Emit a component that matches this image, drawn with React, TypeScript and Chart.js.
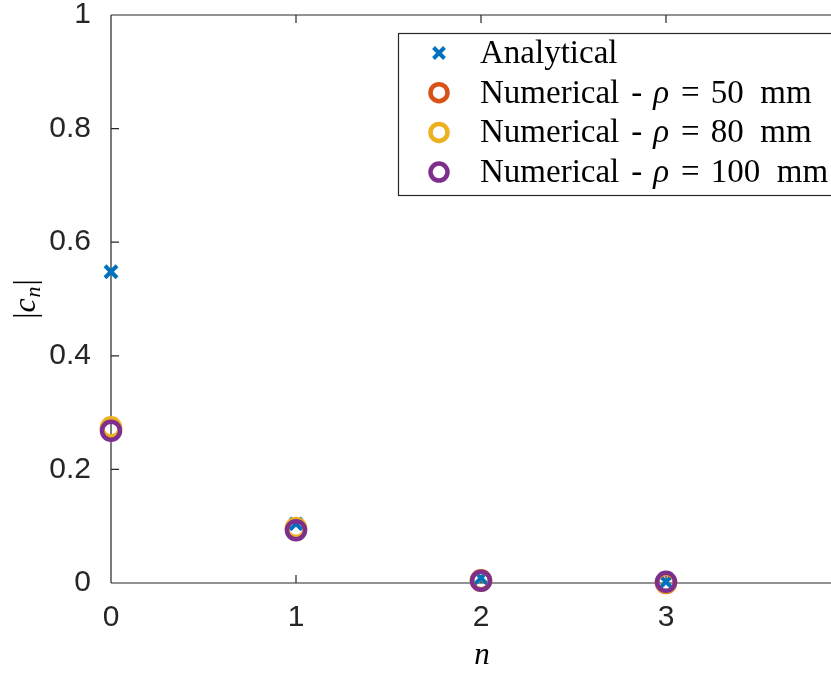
import React, { useEffect, useRef } from "react";
import { Chart, registerables } from "chart.js";

Chart.register(...registerables);

const nValues = [0, 1, 2, 3];
const analytical = [0.548, 0.104, 0.009, 0.002];
const numerical50 = [0.271, 0.095, 0.005, 0.0];
const numerical80 = [0.274, 0.097, 0.004, 0.001];
const numerical100 = [0.268, 0.093, 0.004, 0.002];

const xTicks = [0, 1, 2, 3, 4];
const yTicks = [0, 0.2, 0.4, 0.6, 0.8, 1];
const yTickLabels = ["0", "0.2", "0.4", "0.6", "0.8", "1"];
const xTickLabels = ["0", "1", "2", "3", "4"];

const seriesNames = ["Analytical", "Numerical - ρ = 50 mm", "Numerical - ρ = 80 mm", "Numerical - ρ = 100 mm"];
const legendRho = ["50", "80", "100"];
const colors = ["#0072BD", "#D95319", "#EDB120", "#7E2F8E"];

const AXIS = "#262626";
const SANS = "'Liberation Sans', Arial, Helvetica, sans-serif";
const SERIF = "'Liberation Serif', 'Times New Roman', serif";

const axesPlugin = {
  id: "matlabAxes",
  beforeDatasetsDraw(chart: any) {
    const { ctx, chartArea, scales } = chart;
    const { left, right, top, bottom } = chartArea;
    ctx.save();
    ctx.strokeStyle = AXIS;
    ctx.lineWidth = 1.2;
    ctx.beginPath();
    ctx.moveTo(left, top);
    ctx.lineTo(right, top);
    ctx.moveTo(left, top);
    ctx.lineTo(left, bottom);
    ctx.moveTo(left, bottom);
    ctx.lineTo(right, bottom);
    ctx.moveTo(right, top);
    ctx.lineTo(right, bottom);
    const tl = 8;
    for (const v of xTicks) {
      const x = scales.x.getPixelForValue(v);
      ctx.moveTo(x, bottom);
      ctx.lineTo(x, bottom - tl);
      ctx.moveTo(x, top);
      ctx.lineTo(x, top + tl);
    }
    for (const v of yTicks) {
      const y = scales.y.getPixelForValue(v);
      ctx.moveTo(left, y);
      ctx.lineTo(left + tl, y);
      ctx.moveTo(right, y);
      ctx.lineTo(right - tl, y);
    }
    ctx.stroke();
    ctx.restore();
  },
  afterDraw(chart: any) {
    const { ctx, chartArea } = chart;
    ctx.save();
    ctx.fillStyle = "#000";
    // x title
    ctx.font = `italic 31px ${SERIF}`;
    ctx.textAlign = "center";
    ctx.textBaseline = "alphabetic";
    ctx.fillText("n", 482, 664);
    // y title |c_n|
    ctx.save();
    ctx.translate(27, 299);
    ctx.rotate(-Math.PI / 2);
    ctx.textAlign = "left";
    const fBar = `31px ${SERIF}`;
    const fC = `italic 32px ${SERIF}`;
    const fN = `italic 22px ${SERIF}`;
    ctx.font = fBar;
    const wBar = ctx.measureText("|").width;
    ctx.font = fC;
    const wC = ctx.measureText("c").width;
    ctx.font = fN;
    const wN = ctx.measureText("n").width;
    const total = wBar * 2 + wC + wN + 2;
    let px = -total / 2;
    const base = 8;
    ctx.font = fBar;
    ctx.fillText("|", px, base);
    px += wBar;
    ctx.font = fC;
    ctx.fillText("c", px, base);
    px += wC + 1;
    ctx.font = fN;
    ctx.fillText("n", px, base + 5);
    px += wN + 1;
    ctx.font = fBar;
    ctx.fillText("|", px, base);
    ctx.restore();

    // legend
    const lx = 398;
    const ly = 33;
    const lr = chartArea.right - 10;
    const lb = 195;
    ctx.fillStyle = "#fff";
    ctx.fillRect(lx, ly, lr - lx, lb - ly);
    ctx.strokeStyle = AXIS;
    ctx.lineWidth = 1.2;
    ctx.strokeRect(lx + 0.5, ly + 0.5, lr - lx, lb - ly);
    const markerX = 439;
    const textX = 480;
    for (let i = 0; i < seriesNames.length; i++) {
      const cy = 53 + i * 39.7;
      ctx.strokeStyle = colors[i];
      if (i === 0) {
        ctx.lineWidth = 4;
        const d = 5.5;
        ctx.beginPath();
        ctx.moveTo(markerX - d, cy - d);
        ctx.lineTo(markerX + d, cy + d);
        ctx.moveTo(markerX + d, cy - d);
        ctx.lineTo(markerX - d, cy + d);
        ctx.stroke();
      } else {
        ctx.lineWidth = 4.5;
        ctx.beginPath();
        ctx.arc(markerX, cy, 8.5, 0, Math.PI * 2);
        ctx.stroke();
      }
      ctx.fillStyle = "#000";
      ctx.textAlign = "left";
      ctx.textBaseline = "alphabetic";
      const baseY = cy + 10;
      const roman = `33px ${SERIF}`;
      const ital = `italic 33px ${SERIF}`;
      if (i === 0) {
        ctx.font = roman;
        ctx.fillText(seriesNames[0], textX, baseY);
      } else {
        let tx = textX;
        ctx.font = roman;
        const p1 = "Numerical";
        ctx.fillText(p1, tx, baseY);
        tx += ctx.measureText(p1).width + 12;
        ctx.fillText("-", tx, baseY);
        tx += ctx.measureText("-").width + 11;
        ctx.font = ital;
        ctx.fillText("ρ", tx, baseY);
        tx += ctx.measureText("ρ").width + 12;
        ctx.font = roman;
        ctx.fillText("=", tx, baseY);
        tx += ctx.measureText("=").width + 11;
        const p3 = legendRho[i - 1] + "  mm";
        ctx.fillText(p3, tx, baseY);
      }
    }
    ctx.restore();
  },
};

export default function App() {
  const ref = useRef<HTMLCanvasElement | null>(null);
  useEffect(() => {
    const canvas = ref.current!;
    const mk = (i: number, data: number[]) => ({
      label: seriesNames[i],
      data: nValues.map((n, k) => ({ x: n, y: data[k] })),
      pointStyle: i === 0 ? "crossRot" : "circle",
      pointRadius: i === 0 ? 8.5 : 9,
      pointBorderWidth: i === 0 ? 4 : 4.5,
      borderColor: colors[i],
      backgroundColor: "rgba(0,0,0,0)",
      pointBackgroundColor: "rgba(0,0,0,0)",
      pointBorderColor: colors[i],
      showLine: false,
      order: 4 - i,
      clip: false as any,
    });
    const chart = new Chart(canvas, {
      type: "scatter",
      data: {
        datasets: [
          mk(0, analytical),
          mk(1, numerical50),
          mk(2, numerical80),
          mk(3, numerical100),
        ],
      },
      options: {
        responsive: false,
        animation: false,
        devicePixelRatio: 1,
        layout: { padding: { top: 15, right: 49, left: 0, bottom: 0 } },
        plugins: { legend: { display: false }, tooltip: { enabled: false } },
        scales: {
          x: {
            type: "linear",
            min: 0,
            max: 4,
            afterBuildTicks: (s: any) => {
              s.ticks = xTicks.map((v) => ({ value: v }));
            },
            afterFit: (s: any) => {
              s.height = 90;
              s.paddingLeft = 0;
              s.paddingRight = 0;
            },
            grid: { display: false },
            border: { display: false },
            ticks: {
              color: AXIS,
              font: { family: SANS, size: 30 },
              padding: 9,
              maxRotation: 0,
              callback: (v: any) => {
                const idx = xTicks.indexOf(Number(v));
                return idx >= 0 ? xTickLabels[idx] : "";
              },
            },
          },
          y: {
            type: "linear",
            min: 0,
            max: 1,
            afterBuildTicks: (s: any) => {
              s.ticks = yTicks.map((v) => ({ value: v }));
            },
            afterFit: (s: any) => {
              s.width = 111;
              s.paddingTop = 0;
              s.paddingBottom = 0;
            },
            grid: { display: false },
            border: { display: false },
            ticks: {
              color: AXIS,
              font: { family: SANS, size: 30 },
              padding: 12,
              callback: (v: any) => {
                const idx = yTicks.findIndex((t) => Math.abs(t - Number(v)) < 1e-9);
                return idx >= 0 ? yTickLabels[idx] : "";
              },
            },
          },
        },
      },
      plugins: [axesPlugin],
    } as any);
    return () => chart.destroy();
  }, []);
  return (
    <div style={{ position: "fixed", left: 0, top: 0, width: 831, height: 673, overflow: "hidden", background: "#fff" }}>
      <canvas ref={ref} width={900} height={673} style={{ display: "block", width: 900, height: 673 }} />
    </div>
  );
}
